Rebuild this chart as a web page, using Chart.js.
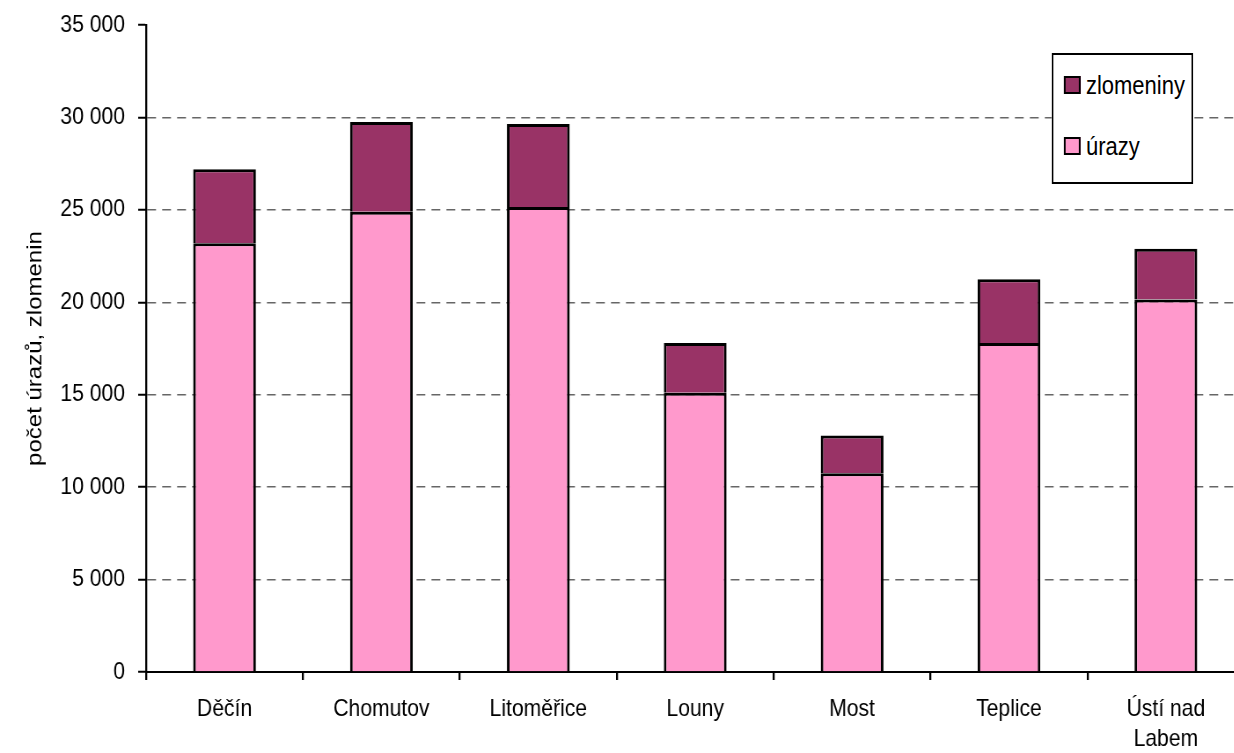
<!DOCTYPE html>
<html>
<head>
<meta charset="utf-8">
<script src="https://cdn.jsdelivr.net/npm/chart.js@4"></script>
<style>
  html, body { margin: 0; padding: 0; background: #fff; overflow: hidden; }
  /* the original graphic is horizontally squeezed; draw wide and compress */
  .wrap { position: relative; width: 1420px; height: 753px; transform: scaleX(0.88); transform-origin: 0 0; }
  #legendBox {
    position: absolute; left: 1195px; top: 53px; width: 161px; height: 131px;
    box-sizing: border-box; border: 2px solid #000; border-left-width: 2.3px; border-right-width: 2.3px;
    background: #fff; font-family: 'Liberation Sans', Arial, sans-serif; font-size: 25px; color: #000;
  }
  .item { position: absolute; left: 12px; display: flex; align-items: center; line-height: 28px; }
  .sw { width: 15px; height: 14px; border: 2px solid #000; margin-right: 6px; }
</style>
</head>
<body>
<div class="wrap">
  <canvas id="chartCanvas"></canvas>
  <div id="legendBox"></div>
</div>
<script>
const FONT = "'Liberation Sans', Arial, sans-serif";

const districts = ['Děčín', 'Chomutov', 'Litoměřice', 'Louny', 'Most', 'Teplice', ['Ústí nad', 'Labem']];
const urazy = [23200, 24900, 25150, 15100, 10750, 17800, 20150];
const zlomeniny = [4000, 4850, 4500, 2700, 2050, 3450, 2750];
const yTicks = [0, 5000, 10000, 15000, 20000, 25000, 30000, 35000];

const ctx = document.getElementById('chartCanvas').getContext('2d');

function fmt(v) {
    return String(v).replace(/\B(?=(\d{3})+(?!\d))/g, ' ');
}

const whiteBg = {
    id: 'whiteBg',
    beforeDraw(c) {
        c.ctx.save();
        c.ctx.fillStyle = '#fff';
        c.ctx.fillRect(0, 0, c.width, c.height);
        c.ctx.restore();
    }
};

const chart = new Chart(ctx, {
    type: 'bar',
    data: {
        labels: districts,
        datasets: [
            {
                label: 'úrazy',
                data: urazy,
                backgroundColor: '#FF99CC',
                borderColor: '#000',
                borderWidth: 3
            },
            {
                label: 'zlomeniny',
                data: zlomeniny,
                backgroundColor: '#993366',
                borderColor: '#000',
                borderWidth: 3
            }
        ]
    },
    options: {
        responsive: true,
        maintainAspectRatio: false,
        animation: false,
        barPercentage: 0.4,
        categoryPercentage: 1,
        layout: { padding: { left: 26, top: 25, right: 6, bottom: 0 } },
        plugins: {
            legend: { display: false },
            tooltip: { enabled: false }
        },
        scales: {
            x: {
                stacked: true,
                grid: {
                    offset: true,
                    drawOnChartArea: false,
                    color: '#000',
                    lineWidth: 2.3,
                    tickLength: 8
                },
                border: { color: '#000', width: 2 },
                ticks: {
                    color: '#000',
                    padding: 14,
                    maxRotation: 0,
                    autoSkip: false,
                    font: { family: FONT, size: 24, lineHeight: 1.25 }
                },
                afterFit: s => { s.height = 81; }
            },
            y: {
                stacked: true,
                min: 0,
                max: 35000,
                afterBuildTicks: s => { s.ticks = yTicks.map(v => ({ value: v })); },
                grid: {
                    color: c => (c.tick && c.tick.value > 0 && c.tick.value < 35000) ? '#666' : 'rgba(0,0,0,0)',
                    lineWidth: 1.5,
                    tickColor: '#000',
                    tickWidth: 2,
                    tickLength: 9,
                    tickBorderDash: []
                },
                border: { color: '#000', width: 2.3, dash: [10, 7] },
                ticks: {
                    color: '#000',
                    padding: 15,
                    font: { family: FONT, size: 24, lineHeight: 1.2 },
                    callback: v => fmt(v)
                },
                title: {
                    display: true,
                    text: 'počet úrazů, zlomenin',
                    color: '#000',
                    padding: { top: 0, bottom: 4 },
                    font: { family: FONT, size: 24, lineHeight: 1.2 }
                },
                afterFit: s => {
                    s.width = 166 - 26;
                    s.paddingTop = 0;
                    s.paddingBottom = 0;
                }
            }
        }
    },
    plugins: [whiteBg]
});

// legend box, items in reverse order like the original
const box = document.getElementById('legendBox');
const items = chart.data.datasets.map(d => ({ text: d.label, color: d.backgroundColor })).reverse();
items.forEach((it, i) => {
    const row = document.createElement('div');
    row.className = 'item';
    row.style.top = (16 + i * 61) + 'px';
    row.innerHTML = `<span class="sw" style="background:${it.color}"></span><span>${it.text}</span>`;
    box.appendChild(row);
});
</script>
</body>
</html>
